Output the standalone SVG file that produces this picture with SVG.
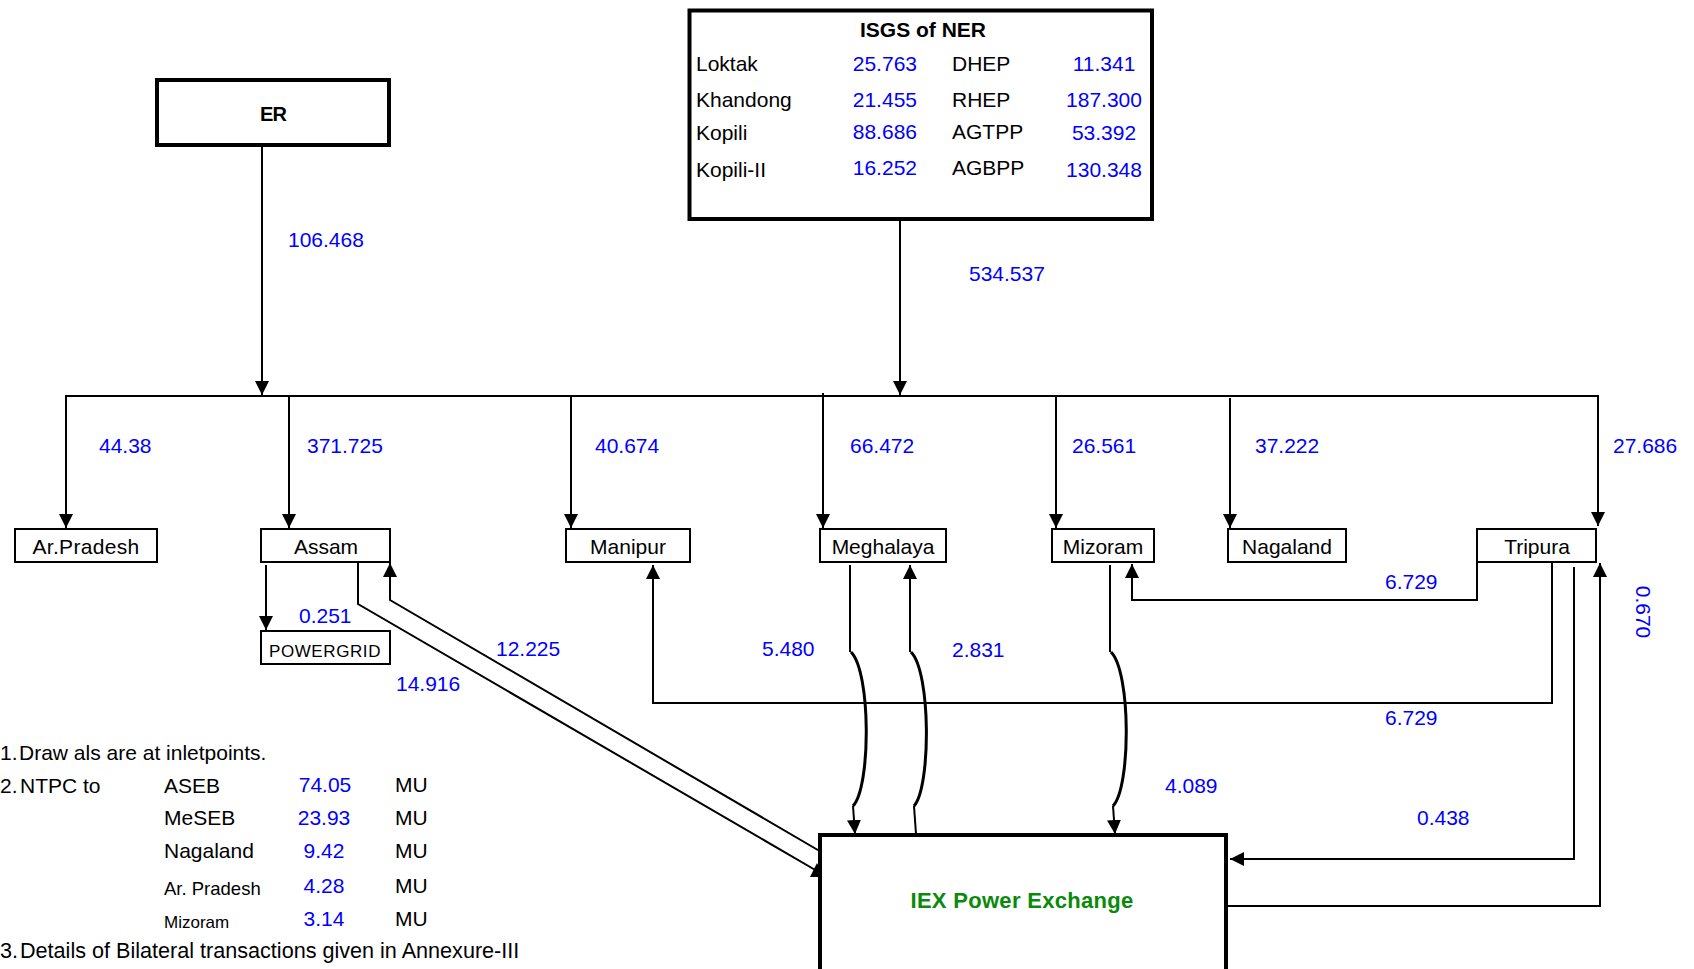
<svg xmlns="http://www.w3.org/2000/svg" width="1694" height="969" viewBox="0 0 1694 969">
<style>
text{font-family:"Liberation Sans",Arial,sans-serif;font-size:21px;fill:#000}
.v{fill:#0000ff}
.b{font-weight:bold}
.c{text-anchor:middle}
.r{text-anchor:end}
.sm{font-size:17px}
.box{fill:#fff;stroke:#000;stroke-width:2}
.big{fill:#fff;stroke:#000;stroke-width:4}
.ln{fill:none;stroke:#000;stroke-width:2}
.cv{fill:none;stroke:#000;stroke-width:3}
.arr{marker-end:url(#ah)}
</style>
<defs>
<marker id="ah" markerUnits="userSpaceOnUse" markerWidth="14" markerHeight="14" refX="14" refY="7" orient="auto">
<path d="M0,0 L14,7 L0,14 z" fill="#000"/>
</marker>
</defs>
<rect width="1694" height="969" fill="#fff"/>

<g id="connectors">
<line class="ln arr" x1="262" y1="147" x2="262" y2="395"/>
<line class="ln arr" x1="900" y1="221" x2="900" y2="395"/>
<line class="ln" x1="65" y1="396" x2="1599" y2="396"/>
<line class="ln arr" x1="66" y1="396" x2="66" y2="528"/>
<line class="ln arr" x1="289" y1="396" x2="289" y2="528"/>
<line class="ln arr" x1="571" y1="396" x2="571" y2="528"/>
<line class="ln arr" x1="823" y1="393" x2="823" y2="528"/>
<line class="ln arr" x1="1056" y1="396" x2="1056" y2="528"/>
<line class="ln arr" x1="1230" y1="398" x2="1230" y2="528"/>
<line class="ln arr" x1="1598" y1="396" x2="1598" y2="526"/>
<line class="ln arr" x1="266" y1="565" x2="266" y2="630"/>
<polyline class="ln" points="358,562 358,604 817,871"/>
<polygon points="810,877 824,877 817,863" fill="#000"/>
<polyline class="ln arr" points="823,853 390,600 390,563"/>
<polyline class="ln arr" points="1552,562 1552,703 653,703 653,565"/>
<polyline class="ln arr" points="1477,562 1477,600 1132,600 1132,564"/>
<polyline class="ln arr" points="1574,567 1574,859 1230,859"/>
<polyline class="ln arr" points="1228,906 1600,906 1600,563"/>
<line class="ln" x1="850" y1="565" x2="850" y2="652"/>
<path class="cv" d="M851,652 C871,672 871,787 853,806"/>
<line class="ln arr" x1="853" y1="806" x2="855" y2="834"/>
<line class="ln" x1="916" y1="834" x2="914" y2="806"/>
<path class="cv" d="M914,806 C931,787 931,672 911,652"/>
<line class="ln arr" x1="910" y1="652" x2="910" y2="565"/>
<line class="ln" x1="1110" y1="565" x2="1110" y2="652"/>
<path class="cv" d="M1111,652 C1131,672 1131,787 1113,806"/>
<line class="ln arr" x1="1113" y1="806" x2="1115" y2="834"/>
</g>

<g id="flow-labels">
<text class="v" x="288" y="247">106.468</text>
<text class="v" x="969" y="281">534.537</text>
<text class="v" x="99" y="453">44.38</text>
<text class="v" x="307" y="453">371.725</text>
<text class="v" x="595" y="453">40.674</text>
<text class="v" x="850" y="453">66.472</text>
<text class="v" x="1072" y="453">26.561</text>
<text class="v" x="1255" y="453">37.222</text>
<text class="v" x="1613" y="453">27.686</text>
<text class="v" x="299" y="623">0.251</text>
<text class="v" x="496" y="656">12.225</text>
<text class="v" x="396" y="691">14.916</text>
<text class="v" x="762" y="656">5.480</text>
<text class="v" x="952" y="657">2.831</text>
<text class="v" x="1385" y="589">6.729</text>
<text class="v" x="1385" y="725">6.729</text>
<text class="v" x="1165" y="793">4.089</text>
<text class="v" x="1417" y="825">0.438</text>
<text class="v c" transform="translate(1636,612) rotate(90)">0.670</text>
</g>

<g id="isgs">
<rect class="big" x="689.5" y="10.5" width="462.5" height="208.5"/>
<text class="b c" x="923" y="37">ISGS of NER</text>
<text x="696" y="71">Loktak</text>
<text x="696" y="107">Khandong</text>
<text x="696" y="140">Kopili</text>
<text x="696" y="177">Kopili-II</text>
<text class="v r" x="917" y="71">25.763</text>
<text class="v r" x="917" y="107">21.455</text>
<text class="v r" x="917" y="139">88.686</text>
<text class="v r" x="917" y="175">16.252</text>
<text x="952" y="71">DHEP</text>
<text x="952" y="107">RHEP</text>
<text x="952" y="139">AGTPP</text>
<text x="952" y="175">AGBPP</text>
<text class="v c" x="1104" y="71">11.341</text>
<text class="v c" x="1104" y="107">187.300</text>
<text class="v c" x="1104" y="140">53.392</text>
<text class="v c" x="1104" y="177">130.348</text>
</g>

<g id="er">
<rect class="big" x="157" y="80" width="232" height="65"/>
<text class="b c" x="273" y="121" style="font-size:20px;letter-spacing:-1px">ER</text>
</g>

<g id="ar-pradesh"><rect class="box" x="15" y="529" width="142" height="33"/><text class="c" x="86" y="554" style="letter-spacing:0.3px">Ar.Pradesh</text></g>
<g id="assam"><rect class="box" x="261" y="529" width="129" height="33"/><text class="c" x="326" y="554">Assam</text></g>
<g id="powergrid"><rect class="box" x="261" y="631" width="129" height="33"/><text class="c" x="325" y="657" style="font-size:17px;letter-spacing:0.6px">POWERGRID</text></g>
<g id="manipur"><rect class="box" x="566" y="529" width="124" height="33"/><text class="c" x="628" y="554">Manipur</text></g>
<g id="meghalaya"><rect class="box" x="820" y="529" width="126" height="33"/><text class="c" x="883" y="554">Meghalaya</text></g>
<g id="mizoram"><rect class="box" x="1052" y="529" width="102" height="33"/><text class="c" x="1103" y="554">Mizoram</text></g>
<g id="nagaland"><rect class="box" x="1228" y="529" width="118" height="33"/><text class="c" x="1287" y="554">Nagaland</text></g>
<g id="tripura"><rect class="box" x="1477" y="529" width="119" height="33"/><text class="c" x="1537" y="554">Tripura</text></g>

<g id="iex">
<rect class="big" x="820" y="835" width="406" height="200"/>
<text class="b c" x="1022" y="908" style="fill:#0a8a0a;font-size:22px;letter-spacing:0.3px">IEX Power Exchange</text>
</g>

<g id="notes">
<text y="760"><tspan x="0">1.</tspan><tspan x="19">Draw als are at inletpoints.</tspan></text>
<text y="793"><tspan x="0">2.</tspan><tspan x="20">NTPC to</tspan></text>
<text x="164" y="793">ASEB</text>
<text x="164" y="825">MeSEB</text>
<text x="164" y="858">Nagaland</text>
<text x="164" y="895" style="font-size:18.5px">Ar. Pradesh</text>
<text class="sm" x="164" y="928">Mizoram</text>
<text class="v c" x="325" y="792">74.05</text>
<text class="v c" x="324" y="825">23.93</text>
<text class="v c" x="324" y="858">9.42</text>
<text class="v c" x="324" y="893">4.28</text>
<text class="v c" x="324" y="926">3.14</text>
<text x="395" y="792">MU</text>
<text x="395" y="825">MU</text>
<text x="395" y="858">MU</text>
<text x="395" y="893">MU</text>
<text x="395" y="926">MU</text>
<text y="958" style="font-size:21.6px"><tspan x="0">3.</tspan><tspan x="20">Details of Bilateral transactions given in Annexure-III</tspan></text>
</g>
</svg>
